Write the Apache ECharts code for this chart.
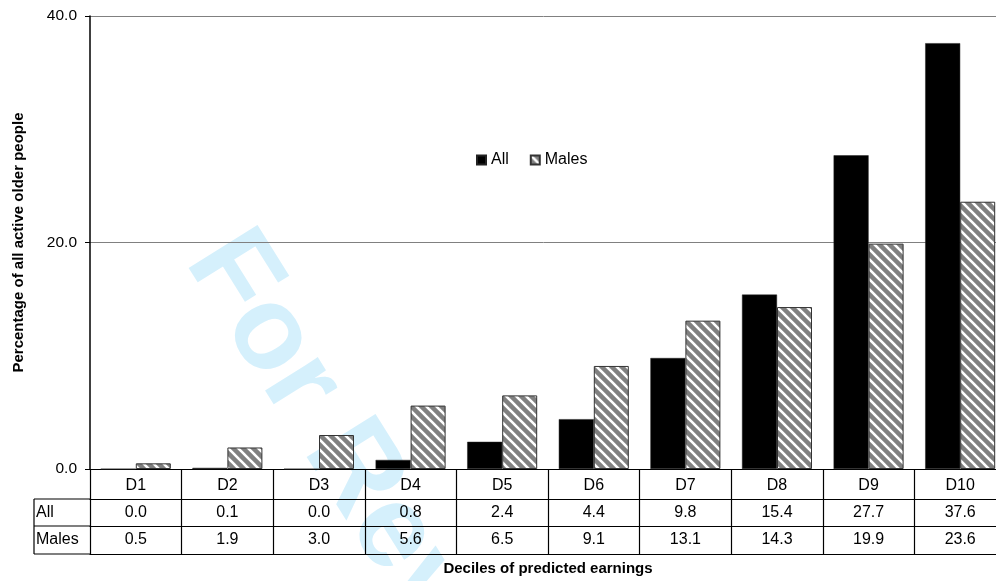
<!DOCTYPE html>
<html>
<head>
<meta charset="utf-8">
<script src="https://cdn.jsdelivr.net/npm/echarts@6/dist/echarts.min.js"></script>
<style>
html,body{margin:0;padding:0;background:#fff;}
#chart{width:996px;height:581px;}
</style>
</head>
<body>
<div id="chart"></div>
<script>
const categories = ['D1','D2','D3','D4','D5','D6','D7','D8','D9','D10'];
const allValues = [0.0, 0.1, 0.0, 0.8, 2.4, 4.4, 9.8, 15.4, 27.7, 37.6];
const maleValues = [0.5, 1.9, 3.0, 5.6, 6.5, 9.1, 13.1, 14.3, 19.9, 23.6];
const yTicks = [0, 20, 40];
const seriesNames = ['All', 'Males'];

const FONT = '"Liberation Sans", Arial, Helvetica, sans-serif';

// hatch pattern for Males
const P = 10;
const pc = document.createElement('canvas');
pc.width = P; pc.height = P;
const g = pc.getContext('2d');
g.fillStyle = '#808080';
g.fillRect(0, 0, P, P);
g.strokeStyle = '#ffffff';
g.lineWidth = 2.6;
for (const k of [-P, 0, P]) {
  g.beginPath();
  g.moveTo(k - 2, -2);
  g.lineTo(k + P + 2, P + 2);
  g.stroke();
}
const hatch = { image: pc, repeat: 'repeat' };

const chart = echarts.init(document.getElementById('chart'), null, { renderer: 'canvas' });

const fmt = v => v.toFixed(1);

const tableAxis = (labels, offset, tickLen, margin, extra) => Object.assign({
  type: 'category',
  data: labels,
  position: 'bottom',
  offset: offset,
  boundaryGap: true,
  axisLine: { show: true, lineStyle: { color: '#000', width: 1.2 } },
  axisTick: { show: tickLen > 0, alignWithLabel: false, interval: 0, length: tickLen, lineStyle: { color: '#000', width: 1.2 } },
  axisLabel: { show: true, interval: 0, margin: margin, fontSize: 16, color: '#000', fontFamily: FONT },
  splitLine: { show: false }
}, extra || {});

const option = {
  backgroundColor: '#fff',
  animation: false,
  textStyle: { fontFamily: FONT, color: '#000' },
  legend: {
    data: seriesNames,
    left: 476, top: 152,
    padding: 0,
    itemWidth: 9, itemHeight: 9,
    itemGap: 21,
    icon: 'rect',
    textStyle: { fontSize: 16, color: '#000', fontFamily: FONT }
  },
  grid: { left: 90, right: -10, top: 16, bottom: 112, containLabel: false, outerBoundsMode: 'none' },
  xAxis: [
    tableAxis(categories, 0, 30, 9),
    tableAxis(allValues.map(fmt), 30, 27, 6),
    tableAxis(maleValues.map(fmt), 57, 28, 6),
    tableAxis(categories.map(() => ''), 85, 0, 6, {
      axisLabel: { show: false },
      name: 'Deciles of predicted earnings',
      nameLocation: 'middle',
      nameGap: 7,
      nameTextStyle: { fontSize: 15, fontWeight: 'bold', color: '#000', fontFamily: FONT }
    })
  ],
  yAxis: {
    type: 'value',
    min: yTicks[0], max: yTicks[yTicks.length - 1], interval: yTicks[1] - yTicks[0],
    name: 'Percentage of all active older people',
    nameLocation: 'middle',
    nameGap: 64,
    nameTextStyle: { fontSize: 15, fontWeight: 'bold', color: '#000', fontFamily: FONT },
    axisLine: { show: true, lineStyle: { color: '#000', width: 1.5 } },
    axisTick: { show: true, length: 5, lineStyle: { color: '#000' } },
    axisLabel: { formatter: v => v.toFixed(1), fontSize: 15.5, color: '#000', margin: 13, fontFamily: FONT },
    splitLine: { show: true, lineStyle: { color: '#808080', width: 1 } }
  },
  graphic: [
    {
      type: 'text', z: -10, zlevel: 0,
      x: 212, y: 244,
      rotation: -58 * Math.PI / 180,
      style: { text: 'For Review', fill: '#d5f0fc', font: 'bold 118px ' + FONT, textAlign: 'left', textVerticalAlign: 'middle' },
      silent: true
    },
    { type: 'line', shape: { x1: 34, y1: 499, x2: 90, y2: 499 }, style: { stroke: '#000', lineWidth: 1.2 } },
    { type: 'line', shape: { x1: 34, y1: 526, x2: 90, y2: 526 }, style: { stroke: '#000', lineWidth: 1.2 } },
    { type: 'line', shape: { x1: 34, y1: 554, x2: 90, y2: 554 }, style: { stroke: '#000', lineWidth: 1.2 } },
    { type: 'line', shape: { x1: 34, y1: 499, x2: 34, y2: 554 }, style: { stroke: '#000', lineWidth: 1.2 } },
    { type: 'text', x: 36, y: 513, style: { text: seriesNames[0], font: '16px ' + FONT, fill: '#000', textVerticalAlign: 'middle' } },
    { type: 'text', x: 36, y: 540, style: { text: seriesNames[1], font: '16px ' + FONT, fill: '#000', textVerticalAlign: 'middle' } }
  ],
  series: [
    {
      name: seriesNames[0], type: 'bar', xAxisIndex: 0, data: allValues,
      barWidth: 35, barGap: '0%',
      itemStyle: { color: '#000', borderColor: '#222', borderWidth: 0.5 },
      z: 3
    },
    {
      name: seriesNames[1], type: 'bar', xAxisIndex: 0, data: maleValues,
      barWidth: 35, barGap: '0%',
      itemStyle: { color: hatch, borderColor: '#333', borderWidth: 1 },
      z: 3
    }
  ]
};
chart.setOption(option);
</script>
</body>
</html>
